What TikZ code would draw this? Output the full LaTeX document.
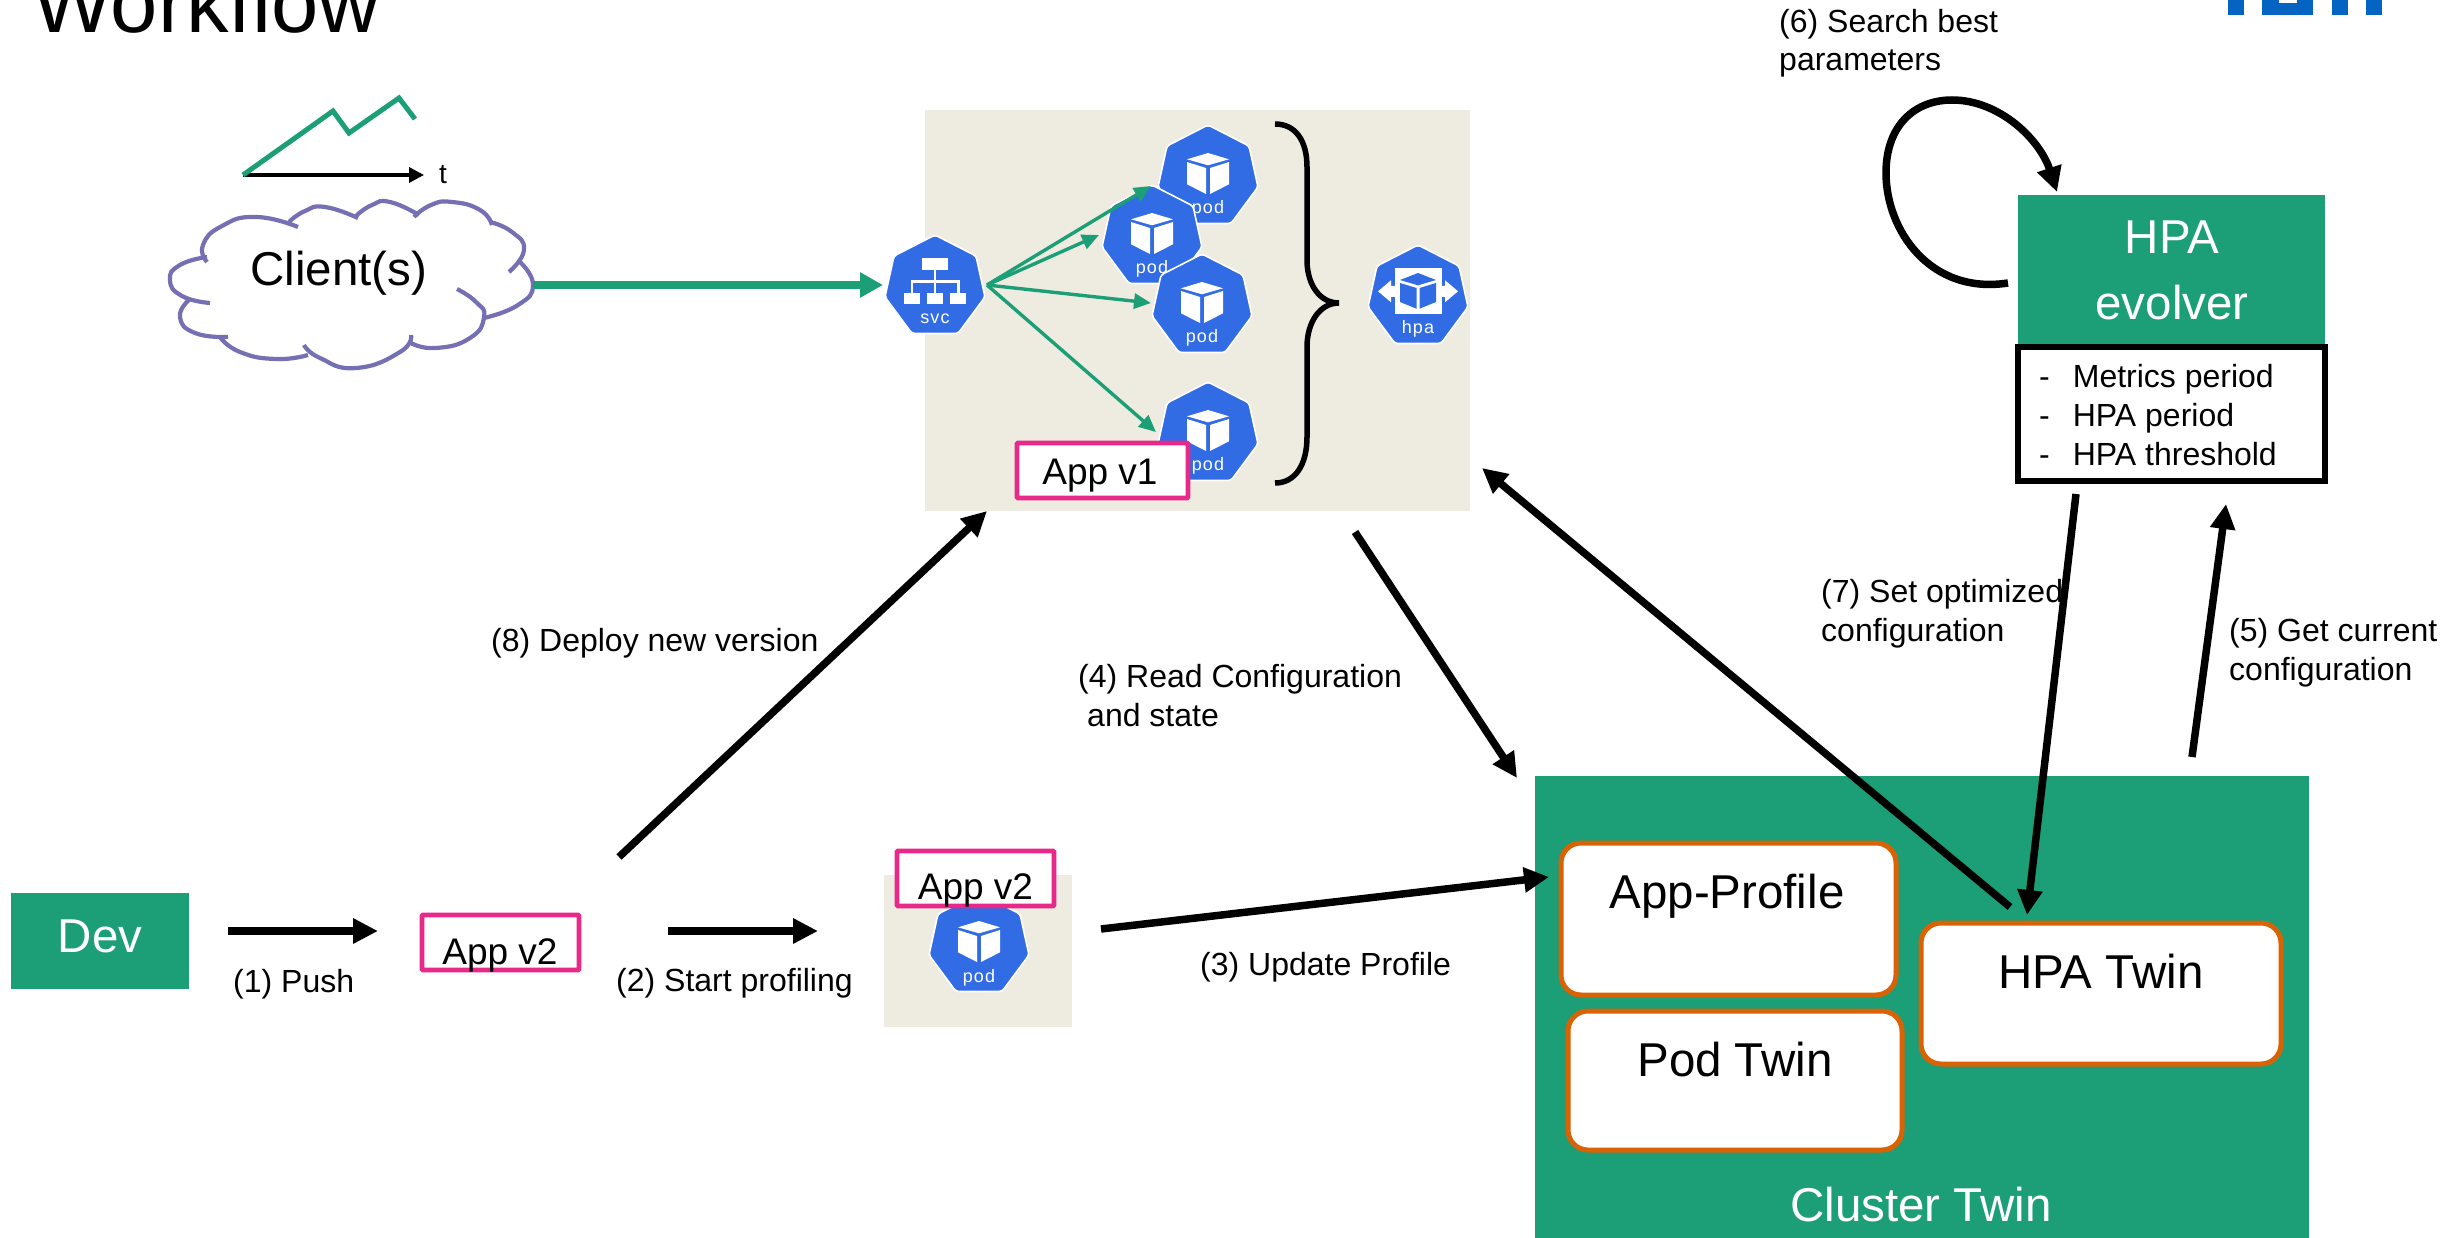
\documentclass[tikz,border=0pt]{standalone}
\usepackage{fontspec}
\setmainfont{Liberation Sans}
\newfontfamily\iconfont[LetterSpace=6]{Liberation Sans}
\usetikzlibrary{arrows.meta}
\definecolor{gr}{HTML}{1C9E77}
\definecolor{pu}{HTML}{7570B3}
\definecolor{pk}{HTML}{E7298A}
\definecolor{og}{HTML}{D96204}
\definecolor{kb}{HTML}{326CE5}
\definecolor{bg}{HTML}{EEEBE0}
\definecolor{lg}{HTML}{0563C1}
\tikzset{
  lbl/.style={anchor=base west,inner sep=0pt,align=left,font=\fontsize{32}{38.5}\selectfont},
  big/.style={anchor=base,inner sep=0pt,font=\fontsize{47.5}{56}\selectfont},
  wbig/.style={big,text=white},
  app/.style={anchor=base,inner sep=0pt,font=\fontsize{37}{44}\selectfont},
  pinkbox/.style={draw=pk,line width=4.7pt,fill=white,rounded corners=1pt,rectangle,inner sep=0pt,outer sep=0pt},
  twin/.style={draw=og,line width=5pt,fill=white,rounded corners=20pt,rectangle,inner sep=0pt,outer sep=0pt},
  greenbox/.style={fill=gr,rectangle,inner sep=0pt,outer sep=0pt},
  beige/.style={fill=bg,rectangle,inner sep=0pt,outer sep=0pt},
  bk/.style={draw=black,line width=7.5pt,-{Triangle[length=25pt,width=24pt]}},
  grn/.style={draw=gr,line width=3.4pt,-{Triangle[length=17pt,width=15pt]}},
  ticon/.style={anchor=base,inner sep=0pt,text=white,font=\iconfont\fontsize{18}{20}\selectfont},
  cloudline/.style={draw=pu,line width=4.2pt},
  pics/hept/.style={code={
    \path[fill=kb,draw=white,line width=1.6pt,rounded corners=3pt]
      (0,-50)--(41,-29)--(50,12)--(23,48.5)--(-23,48.5)--(-50,12)--(-41,-29)--cycle;
  }},
  pics/cubew/.style={code={
    \fill[white] (0,-22)--(21,-15.7)--(0,-9.7)--(-21,-15.7)--cycle;
    \fill[white] (-21,-13)--(-2,-7)--(-2,19)--(-21,9.3)--cycle;
    \fill[white] (21,-13)--(2,-7)--(2,19)--(21,9.3)--cycle;
  }},
  pics/kpod/.style={code={
    \pic {hept}; \pic {cubew};
    \node[ticon] (-lab) at (0,39) {pod};
  }},
  pics/ksvc/.style={code={
    \pic {hept};
    \fill[white] (-13,-27) rectangle (13,-15);
    \fill[white] (-1.3,-15) rectangle (1.3,9);
    \fill[white] (-24.5,-4.5) rectangle (24.5,-2);
    \fill[white] (-24.5,-4.5) rectangle (-22,9);
    \fill[white] (22,-4.5) rectangle (24.5,9);
    \fill[white] (-31,8) rectangle (-15,19);
    \fill[white] (-8,8) rectangle (8,19);
    \fill[white] (15,8) rectangle (31,19);
    \node[ticon] (-lab) at (0,39) {svc};
  }},
  pics/khpa/.style={code={
    \pic {hept};
    \fill[white] (-23,-27) rectangle (24,19);
    \fill[white] (-40,-3.7)--(-27,-14.7)--(-27,-9)--(-20,-9)--(-20,2)--(-27,2)--(-27,7.3)--cycle;
    \fill[white] (40,-3.7)--(27,-14.7)--(27,-9)--(20,-9)--(20,2)--(27,2)--(27,7.3)--cycle;
    \fill[kb] (0,-22)--(18,-15)--(0,-9.7)--(-18,-15)--cycle;
    \fill[kb] (-18,-12)--(-1.5,-7)--(-1.5,13.7)--(-18,7)--cycle;
    \fill[kb] (18,-12)--(1.5,-7)--(1.5,13.7)--(18,7)--cycle;
    \node[ticon] (-lab) at (0,39) {hpa};
  }},
}
\begin{document}
\begin{tikzpicture}[x=1pt,y=-1pt]
\useasboundingbox (0,0) rectangle (2453,1238);
\clip (0,0) rectangle (2453,1238);
\fill[white] (0,0) rectangle (2453,1238);

% title and logo
\node[anchor=base west,inner sep=0pt,font=\fontsize{85}{90}\selectfont] (title) at (32,33) {Workflow};
\fill[lg] (2228,0) rectangle (2244,15);
\fill[lg] (2262,0) rectangle (2313,15);
\fill[white] (2279,0) rectangle (2297,3);
\fill[lg] (2332,0) rectangle (2348,15);
\fill[lg] (2366,0) rectangle (2382,15);

% load sketch
\coordinate (ax0) at (243,175);
\coordinate (ax1) at (424,175);
\draw[line width=3.4pt,-{Triangle[length=15pt,width=15pt]}] (ax0) -- (ax1);
\draw[gr,line width=5pt,miter limit=3] (ax0)--(333,111)--(349,133)--(399,98)--(415,119);
\node[lbl,font=\fontsize{28}{32}\selectfont] (tlab) at (439,184) {t};

% cloud
\fill[white] (207,262)--(256,217)--(390,202)--(524,250)--(533,285)--(484,317)--(356,368)--(180,317)--cycle;
\draw[cloudline] plot[smooth,tension=.9] coordinates {(207,262)(203,245)(222,226)(256,217)(298,227)};
\draw[cloudline] plot[smooth,tension=.9] coordinates {(289,222)(305,211)(325,207)(358,218)};
\draw[cloudline] plot[smooth,tension=.9] coordinates {(356,216)(372,205)(390,202)(419,215)};
\draw[cloudline] plot[smooth,tension=.9] coordinates {(414,217)(431,205)(452,202)(480,210)(492,225)};
\draw[cloudline] plot[smooth,tension=.9] coordinates {(490,222)(512,232)(524,250)(509,272)};
\draw[cloudline] plot[smooth,tension=.9] coordinates {(520,262)(533,285)(518,305)(484,318)};
\draw[cloudline] plot[smooth,tension=.9] coordinates {(457,289)(476,302)(484,317)(470,338)(436,348)(411,343)};
\draw[cloudline] plot[smooth,tension=.9] coordinates {(411,335)(400,352)(356,368)(320,358)(304,345)};
\draw[cloudline] plot[smooth,tension=.9] coordinates {(308,355)(276,359)(240,352)(220,337)};
\draw[cloudline] plot[smooth,tension=.9] coordinates {(228,337)(195,333)(180,317)(189,300)};
\draw[cloudline] plot[smooth,tension=.9] coordinates {(210,303)(182,296)(170,280)(180,265)(207,257)};
\node[big] (client) at (339,286) {Client(s)};

% application v1 group
\node[beige,minimum width=545pt,minimum height=401pt,anchor=north west] (appbg) at (925,110) {};
\pic (p1) at (1208,175) {kpod};
\pic (p2) at (1152,235) {kpod};
\pic (p3) at (1202,304) {kpod};
\pic (p4) at (1208,432) {kpod};
\pic (svc) at (935,285) {ksvc};
\pic (hpa) at (1418,295) {khpa};
\coordinate (cloudout) at (533,285);
\coordinate (svcin) at (883,285);
\draw[draw=gr,line width=7.5pt,-{Triangle[length=23pt,width=24pt]}] (cloudout) -- (svcin);
\coordinate (svcout) at (987,285);
\coordinate (t1) at (1151,186);
\coordinate (t2) at (1099,235);
\coordinate (t3) at (1151,303);
\coordinate (t4) at (1156,432);
\draw[grn] (svcout) -- (t1);
\draw[grn] (svcout) -- (t2);
\draw[grn] (svcout) -- (t3);
\draw[grn] (svcout) -- (t4);
\draw[line width=5.5pt] (1275,124) .. controls (1295,124) and (1307,140) .. (1307,167)
  -- (1307,260) .. controls (1307,285) and (1320,303) .. (1339,303)
  .. controls (1320,303) and (1307,322) .. (1307,347) -- (1307,437)
  .. controls (1307,465) and (1295,483) .. (1275,483);
\node[pinkbox,minimum width=171pt,minimum height=55pt,anchor=north west] (v1box) at (1017,443) {};
\node[app] (v1txt) at (1100,484) {App v1};

% dev row
\node[greenbox,minimum width=178pt,minimum height=96pt,anchor=north west] (dev) at (11,893) {};
\node[wbig] (devtxt) at (100,952) {Dev};
\node[pinkbox,minimum width=157pt,minimum height=55pt,anchor=north west] (v2a) at (422,915) {};
\node[app] (v2atxt) at (500,964) {App v2};
\node[beige,minimum width=188pt,minimum height=152pt,anchor=north west] (profbg) at (884,875) {};
\pic (p5) at (979,943) {kpod};
\node[pinkbox,minimum width=157pt,minimum height=55pt,anchor=north west] (v2b) at (897,851) {};
\node[app] (v2btxt) at (975.5,899) {App v2};

% cluster twin
\node[greenbox,minimum width=774pt,minimum height=470pt,anchor=north west] (cluster) at (1535,776) {};
\node[wbig] (clustertxt) at (1921,1221) {Cluster Twin};
\node[twin,minimum width=335pt,minimum height=152pt,anchor=north west] (profile) at (1561,843) {};
\node[big] (profiletxt) at (1727,908) {App-Profile};
\node[twin,minimum width=334pt,minimum height=139pt,anchor=north west] (podtwin) at (1568,1011) {};
\node[big] (podtwintxt) at (1735,1076) {Pod Twin};
\node[twin,minimum width=360pt,minimum height=141pt,anchor=north west] (hpatwin) at (1921,923) {};
\node[big] (hpatwintxt) at (2101,988) {HPA Twin};

% HPA evolver
\node[greenbox,minimum width=307pt,minimum height=150pt,anchor=north west] (evolver) at (2018,195) {};
\node[wbig] (hpatxt) at (2172,254) {HPA};
\node[wbig] (evotxt) at (2172,320) {evolver};
\node[draw=black,line width=5.4pt,fill=white,rectangle,inner sep=0pt,outer sep=0pt,minimum width=307pt,minimum height=134pt,anchor=north west] (metricbox) at (2018,347) {};
\node[lbl] (m1) at (2039,388) {-\hspace{23pt}Metrics period};
\node[lbl] (m2) at (2039,427) {-\hspace{23pt}HPA period};
\node[lbl] (m3) at (2039,465) {-\hspace{23pt}HPA threshold};

% black connectors
\coordinate (a1s) at (228,931); \coordinate (a1e) at (378,931);
\draw[bk] (a1s) -- (a1e);
\coordinate (a2s) at (668,931); \coordinate (a2e) at (818,931);
\draw[bk] (a2s) -- (a2e);
\coordinate (a3s) at (1101,929); \coordinate (a3e) at (1549,877);
\draw[bk] (a3s) -- (a3e);
\coordinate (a4s) at (1355,532); \coordinate (a4e) at (1517,778);
\draw[bk] (a4s) -- (a4e);
\coordinate (a8s) at (619,857); \coordinate (a8e) at (987,511);
\draw[bk] (a8s) -- (a8e);
\coordinate (a7s) at (2010,907); \coordinate (a7e) at (1482,468);
\draw[bk] (a7s) -- (a7e);
\coordinate (a7bs) at (2076,494); \coordinate (a7be) at (2027,915);
\draw[bk] (a7bs) -- (a7be);
\coordinate (a5s) at (2192,757); \coordinate (a5e) at (2226,504);
\draw[bk] (a5s) -- (a5e);
\coordinate (a6s) at (2008,283); \coordinate (a6e) at (2057,192);
\draw[bk] (a6s) .. controls (1930,295) and (1886,230) .. (1886,173)
  .. controls (1886,125) and (1915,100) .. (1952,100)
  .. controls (2000,100) and (2040,140) .. (a6e);

% labels
\node[lbl] (l6) at (1779,71) {(6) Search best\\parameters};
\node[lbl] (l1) at (233,992) {(1) Push};
\node[lbl] (l2) at (616,991) {(2) Start profiling};
\node[lbl] (l3) at (1200,975) {(3) Update Profile};
\node[lbl] (l4) at (1078,726) {(4) Read Configuration\\\hspace{9pt}and state};
\node[lbl] (l5) at (2229,680) {(5) Get current\\configuration};
\node[lbl] (l7) at (1821,641) {(7) Set optimized\\configuration};
\node[lbl] (l8) at (491,651) {(8) Deploy new version};
\end{tikzpicture}
\end{document}
